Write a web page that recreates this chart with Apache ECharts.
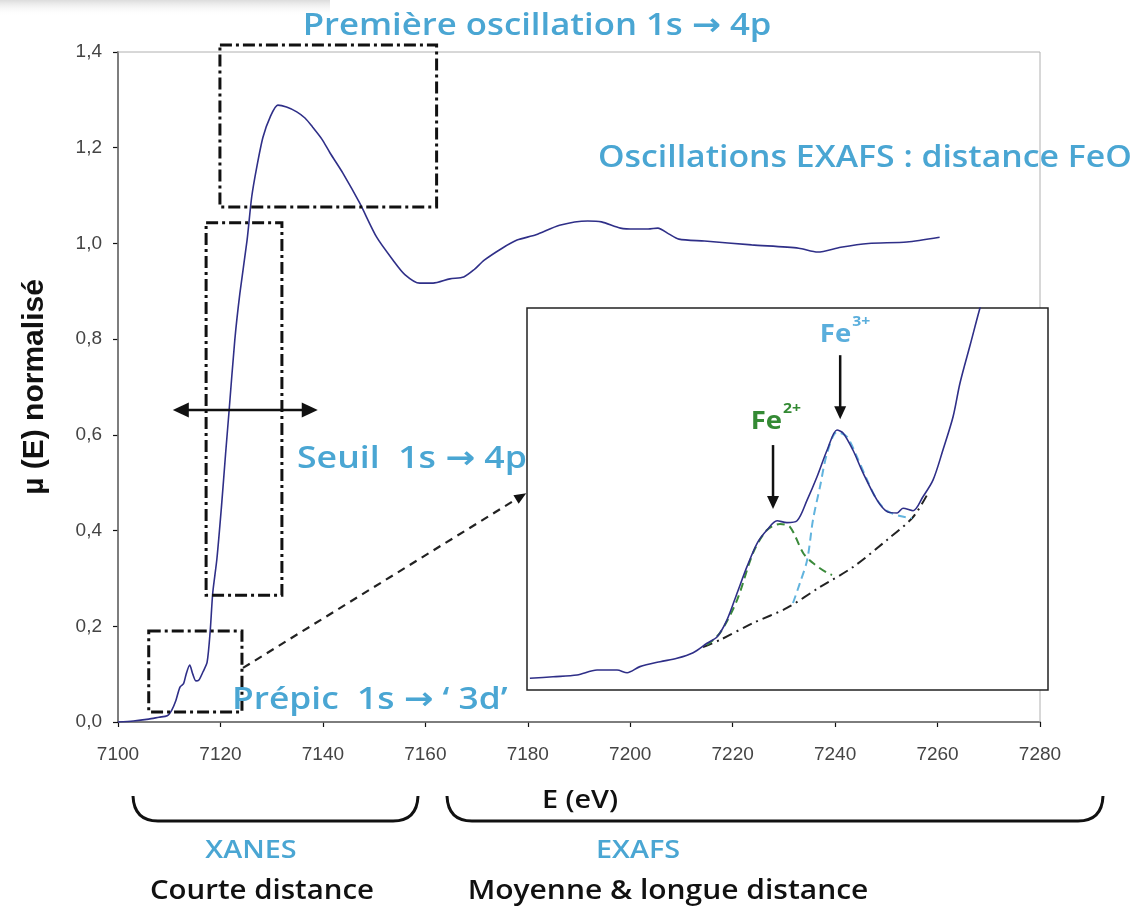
<!DOCTYPE html>
<html>
<head>
<meta charset="utf-8">
<script src="https://cdn.jsdelivr.net/npm/echarts@6/dist/echarts.min.js"></script>
<style>
html,body{margin:0;padding:0;background:#fff;}
#chart{width:1132px;height:908px;}
</style>
</head>
<body>
<div id="chart"></div>
<script>
// ---- Main XAS spectrum (E in eV, normalised mu) ----
const mainEnergy = [7100, 7103, 7106, 7108, 7109.6, 7110.5, 7111.3, 7112.1, 7112.8, 7113.3, 7114.0, 7114.6, 7115.2, 7115.8, 7116.6, 7117.4, 7118.0, 7118.5, 7119.3, 7120.2, 7121.0, 7121.7, 7122.8, 7123.8, 7125.2, 7126.1, 7127.1, 7128.3, 7129.7, 7131.2, 7132.9, 7134.9, 7136.5, 7138.0, 7139.8, 7141.4, 7143.9, 7147.2, 7150.5, 7153.7, 7156.0, 7158.9, 7161.5, 7164.8, 7167.5, 7169.5, 7171.5, 7175.0, 7177.9, 7181.6, 7186.2, 7191.7, 7194.4, 7198.1, 7200.9, 7203.5, 7205.4, 7207.5, 7209.5, 7214.5, 7223.7, 7232.9, 7236.6, 7241.1, 7246.5, 7254.0, 7260.4];
const mainMu     = [0.000, 0.002, 0.006, 0.010, 0.013, 0.025, 0.045, 0.073, 0.080, 0.100, 0.119, 0.100, 0.086, 0.088, 0.105, 0.125, 0.190, 0.270, 0.340, 0.450, 0.560, 0.652, 0.798, 0.896, 1.007, 1.097, 1.160, 1.222, 1.264, 1.289, 1.285, 1.275, 1.262, 1.243, 1.218, 1.189, 1.147, 1.084, 1.013, 0.965, 0.935, 0.917, 0.917, 0.926, 0.930, 0.945, 0.965, 0.990, 1.007, 1.018, 1.038, 1.047, 1.045, 1.032, 1.030, 1.030, 1.032, 1.020, 1.009, 1.005, 0.997, 0.990, 0.982, 0.992, 1.000, 1.003, 1.013];

// ---- Inset: pre-edge zoom ----
const insetEnergy = [7106.10, 7106.90, 7107.73, 7108.42, 7109.11, 7109.46, 7109.90, 7110.60, 7111.18, 7111.74, 7112.22, 7112.57, 7112.91, 7113.26, 7113.60, 7113.95, 7114.29, 7114.64, 7114.98, 7115.33, 7115.68, 7116.02, 7116.37, 7116.71, 7116.92, 7117.26, 7117.61, 7118.09, 7118.44, 7118.79, 7118.99, 7119.34, 7119.68, 7120.03, 7120.37, 7120.72, 7120.96, 7121.31, 7121.65, 7122.0];
const insetMu     = [0.0252, 0.0259, 0.0267, 0.0289, 0.0289, 0.0277, 0.0304, 0.0326, 0.0341, 0.0366, 0.0408, 0.0437, 0.0512, 0.0632, 0.0749, 0.0853, 0.0912, 0.0953, 0.0945, 0.0953, 0.1046, 0.1149, 0.1268, 0.1357, 0.1344, 0.1268, 0.1166, 0.1046, 0.0994, 0.0988, 0.1009, 0.0998, 0.1060, 0.1135, 0.1268, 0.1416, 0.1566, 0.1735, 0.1900, 0.2050];

const fe2Energy = [7112.22, 7112.67, 7113.26, 7113.81, 7114.29, 7114.74, 7115.09, 7115.54, 7115.88, 7116.37, 7116.54];
const fe2Mu     = [0.0400, 0.0454, 0.0601, 0.0810, 0.0912, 0.0939, 0.0925, 0.0810, 0.0765, 0.0721, 0.0712];

const fe3Energy = [7115.19, 7115.43, 7115.68, 7115.88, 7116.12, 7116.37, 7116.71, 7117.06, 7117.40, 7117.75, 7118.09, 7118.44, 7118.89, 7119.30];
const fe3Mu     = [0.0587, 0.0676, 0.0779, 0.0957, 0.1103, 0.1255, 0.1348, 0.1326, 0.1237, 0.1135, 0.1046, 0.0997, 0.0974, 0.0965];

const baseEnergy = [7112.08, 7112.67, 7113.81, 7114.98, 7116.12, 7117.26, 7118.44, 7119.34, 7119.86];
const baseMu     = [0.0391, 0.0423, 0.0498, 0.0565, 0.0658, 0.0747, 0.0868, 0.0970, 0.1077];

// ---- Axis ranges / ticks ----
const xMin = 7100, xMax = 7280, xStep = 20;
const yMin = 0, yMax = 1.4, yStep = 0.2;
const insetXRange = [7106, 7124];
const insetYRange = [0.02, 0.19];

function pairs(xs, ys) { return xs.map((x, i) => [x, ys[i]]); }

const BLUE_TXT = '#4aa6d3';
const CURVE = '#2f2f88';
const FONT = '"Open Sans", "DejaVu Sans", sans-serif';
const AXFONT = '"Liberation Sans", Arial, sans-serif';

const chart = echarts.init(document.getElementById('chart'), null, {renderer: 'canvas'});

const option = {
  backgroundColor: '#ffffff',
  animation: false,
  grid: [
    {left: 118, top: 52, width: 922, height: 670, show: true, borderColor: '#b0b0b0', borderWidth: 1, backgroundColor: 'transparent', z: 1},
    {left: 527, top: 308, width: 521, height: 382, show: true, borderColor: '#222', borderWidth: 1.5, backgroundColor: '#ffffff', z: 3}
  ],
  xAxis: [
    {
      type: 'value', gridIndex: 0, min: xMin, max: xMax, interval: xStep,
      axisLine: {show: true, lineStyle: {color: '#111', width: 1.5}},
      axisTick: {show: true, inside: false, length: 5, lineStyle: {color: '#111', width: 1.2}},
      axisLabel: {fontFamily: AXFONT, fontSize: 19, color: '#444', margin: 23, formatter: v => String(v)},
      splitLine: {show: false}
    },
    {type: 'value', gridIndex: 1, min: insetXRange[0], max: insetXRange[1], show: false, splitLine: {show: false}}
  ],
  yAxis: [
    {
      type: 'value', gridIndex: 0, min: yMin, max: yMax, interval: yStep,
      name: 'µ (E) normalisé', nameLocation: 'middle', nameGap: 68, nameRotate: 90,
      nameTextStyle: {fontFamily: AXFONT, fontSize: 30, fontWeight: 'bold', color: '#111'},
      axisLine: {show: true, lineStyle: {color: '#111', width: 1.5}},
      axisTick: {show: true, inside: false, length: 5, lineStyle: {color: '#111', width: 1.2}},
      axisLabel: {fontFamily: AXFONT, fontSize: 19, color: '#444', margin: 16,
        formatter: v => v.toFixed(1).replace('.', ',')},
      splitLine: {show: false}
    },
    {type: 'value', gridIndex: 1, min: insetYRange[0], max: insetYRange[1], show: false, splitLine: {show: false}}
  ],
  series: [
    {type: 'line', xAxisIndex: 0, yAxisIndex: 0, data: pairs(mainEnergy, mainMu), showSymbol: false,
     smooth: 0.25, lineStyle: {color: CURVE, width: 1.6}, z: 2},
    {type: 'line', xAxisIndex: 1, yAxisIndex: 1, data: pairs(baseEnergy, baseMu), showSymbol: false, smooth: 0.3,
     lineStyle: {color: '#222', width: 2, type: [10, 5, 2, 5]}, z: 5},
    {type: 'line', xAxisIndex: 1, yAxisIndex: 1, data: pairs(fe2Energy, fe2Mu), showSymbol: false, smooth: 0.3,
     lineStyle: {color: '#3a8a3a', width: 2, type: [8, 5]}, z: 5},
    {type: 'line', xAxisIndex: 1, yAxisIndex: 1, data: pairs(fe3Energy, fe3Mu), showSymbol: false, smooth: 0.3,
     lineStyle: {color: '#62b4de', width: 2, type: [8, 5]}, z: 5},
    {type: 'line', xAxisIndex: 1, yAxisIndex: 1, data: pairs(insetEnergy, insetMu), showSymbol: false, smooth: 0.3,
     clip: true, lineStyle: {color: CURVE, width: 1.6}, z: 6}
  ]
};
chart.setOption(option);

// ---- Annotations (placed through the axes) ----
const P = (E, m) => chart.convertToPixel({gridIndex: 0}, [E, m]);
const Q = (E, m) => chart.convertToPixel({gridIndex: 1}, [E, m]);

const boxes = [
  [7119.9, 1.4145, 7162.2, 1.076],
  [7117.2, 1.043, 7132.0, 0.265],
  [7106.0, 0.190, 7124.2, 0.021]
];
const g = [];

// faint grey band at the top-left of the slide
g.push({type: 'rect', z: 0, shape: {x: 0, y: 0, width: 330, height: 16},
  style: {fill: new echarts.graphic.LinearGradient(0, 0, 0, 1, [{offset: 0, color: '#dcdcdc'}, {offset: 1, color: 'rgba(255,255,255,0)'}])}});

boxes.forEach(b => {
  const a = P(b[0], b[1]), c = P(b[2], b[3]);
  g.push({type: 'rect', z: 20, shape: {x: a[0], y: a[1], width: c[0] - a[0], height: c[1] - a[1]},
    style: {fill: 'none', stroke: '#111', lineWidth: 3, lineDash: [12, 4, 3, 4]}});
});

function arrowHead(tip, from, len, wid, color, z) {
  const dx = tip[0] - from[0], dy = tip[1] - from[1];
  const L = Math.hypot(dx, dy), ux = dx / L, uy = dy / L;
  const bx = tip[0] - ux * len, by = tip[1] - uy * len;
  return {type: 'polygon', z: z, shape: {points: [tip, [bx - uy * wid / 2, by + ux * wid / 2], [bx + uy * wid / 2, by - ux * wid / 2]]},
    style: {fill: color}};
}

// double arrow across the edge
const da = P(7110.7, 0.652), db = P(7139.0, 0.652);
g.push({type: 'line', z: 21, shape: {x1: da[0] + 10, y1: da[1], x2: db[0] - 10, y2: db[1]}, style: {stroke: '#111', lineWidth: 2.5}});
g.push(arrowHead(da, db, 16, 15, '#111', 21));
g.push(arrowHead(db, da, 16, 15, '#111', 21));

// dashed link to the inset
const la = P(7124.4, 0.113), lb = P(7179.7, 0.478);
g.push({type: 'line', z: 21, shape: {x1: la[0], y1: la[1], x2: lb[0] - 10, y2: lb[1] + 6}, style: {stroke: '#222', lineWidth: 2.2, lineDash: [8, 6]}});
g.push(arrowHead(lb, la, 12, 10, '#111', 21));

// inset arrows
const f2a = Q(7114.50, 0.129), f2b = Q(7114.50, 0.1005);
const f3a = Q(7116.82, 0.169), f3b = Q(7116.82, 0.1405);
[[f2a, f2b], [f3a, f3b]].forEach(([a, b]) => {
  g.push({type: 'line', z: 21, shape: {x1: a[0], y1: a[1], x2: b[0], y2: b[1] - 10}, style: {stroke: '#111', lineWidth: 2.5}});
  g.push(arrowHead(b, a, 13, 12, '#111', 21));
});

function txt(x, y, s, size, color, weight, align, sx) {
  return {type: 'text', z: 25, x: x, y: y, scaleX: sx || 1,
    style: {text: s, fontFamily: FONT, fontSize: size, fill: color, fontWeight: weight || 'normal',
      align: align || 'center', verticalAlign: 'middle'}};
}
// inset labels
const GREEN = '#348a34', LBLUE = '#5aaedc';
g.push(txt(f2a[0] + 9, f2a[1] - 23, 'Fe', 25, GREEN, 'bold', 'right', 1.1));
g.push(txt(f2a[0] + 10, f2a[1] - 36, '2+', 15, GREEN, 'bold', 'left', 1.05));
g.push(txt(f3a[0] + 11, f3a[1] - 20, 'Fe', 25, LBLUE, 'bold', 'right', 1.1));
g.push(txt(f3a[0] + 12, f3a[1] - 33, '3+', 15, LBLUE, 'bold', 'left', 1.05));

// big annotation texts
g.push(txt(537, 26, 'Première oscillation 1s → 4p', 31, BLUE_TXT, 600, 'center', 1.12));
g.push(txt(598, 158, 'Oscillations EXAFS : distance FeO', 31, BLUE_TXT, 600, 'left', 1.09));
g.push(txt(297, 459, 'Seuil  1s → 4p', 31, BLUE_TXT, 600, 'left', 1.15));
g.push(txt(232, 700, 'Prépic  1s → ‘ 3d’', 31, BLUE_TXT, 600, 'left', 1.14));

// braces
function brace(x1, x2, yTop, yBot, r) {
  return [
    {type: 'bezierCurve', z: 20, shape: {x1: x1, y1: yTop, x2: x1 + r, y2: yBot, cpx1: x1 + 1, cpy1: yBot}, style: {fill: 'none', stroke: '#111', lineWidth: 3}},
    {type: 'line', z: 20, shape: {x1: x1 + r, y1: yBot, x2: x2 - r, y2: yBot}, style: {stroke: '#111', lineWidth: 3}},
    {type: 'bezierCurve', z: 20, shape: {x1: x2 - r, y1: yBot, x2: x2, y2: yTop, cpx1: x2 - 1, cpy1: yBot}, style: {fill: 'none', stroke: '#111', lineWidth: 3}}
  ];
}
brace(133, 418, 796, 821, 25).forEach(e => g.push(e));
brace(447, 1103, 796, 821, 25).forEach(e => g.push(e));

// axis title and bottom texts
g.push(txt(580, 801, 'E (eV)', 25, '#111', 600, 'center', 1.15));
g.push(txt(251, 851, 'XANES', 25, BLUE_TXT, 600, 'center', 1.15));
g.push(txt(638, 851, 'EXAFS', 25, BLUE_TXT, 600, 'center', 1.15));
g.push(txt(262, 891, 'Courte distance', 27, '#111', 600, 'center', 1.09));
g.push(txt(668, 891, 'Moyenne & longue distance', 27, '#111', 600, 'center', 1.11));

chart.setOption({graphic: g});
</script>
</body>
</html>
